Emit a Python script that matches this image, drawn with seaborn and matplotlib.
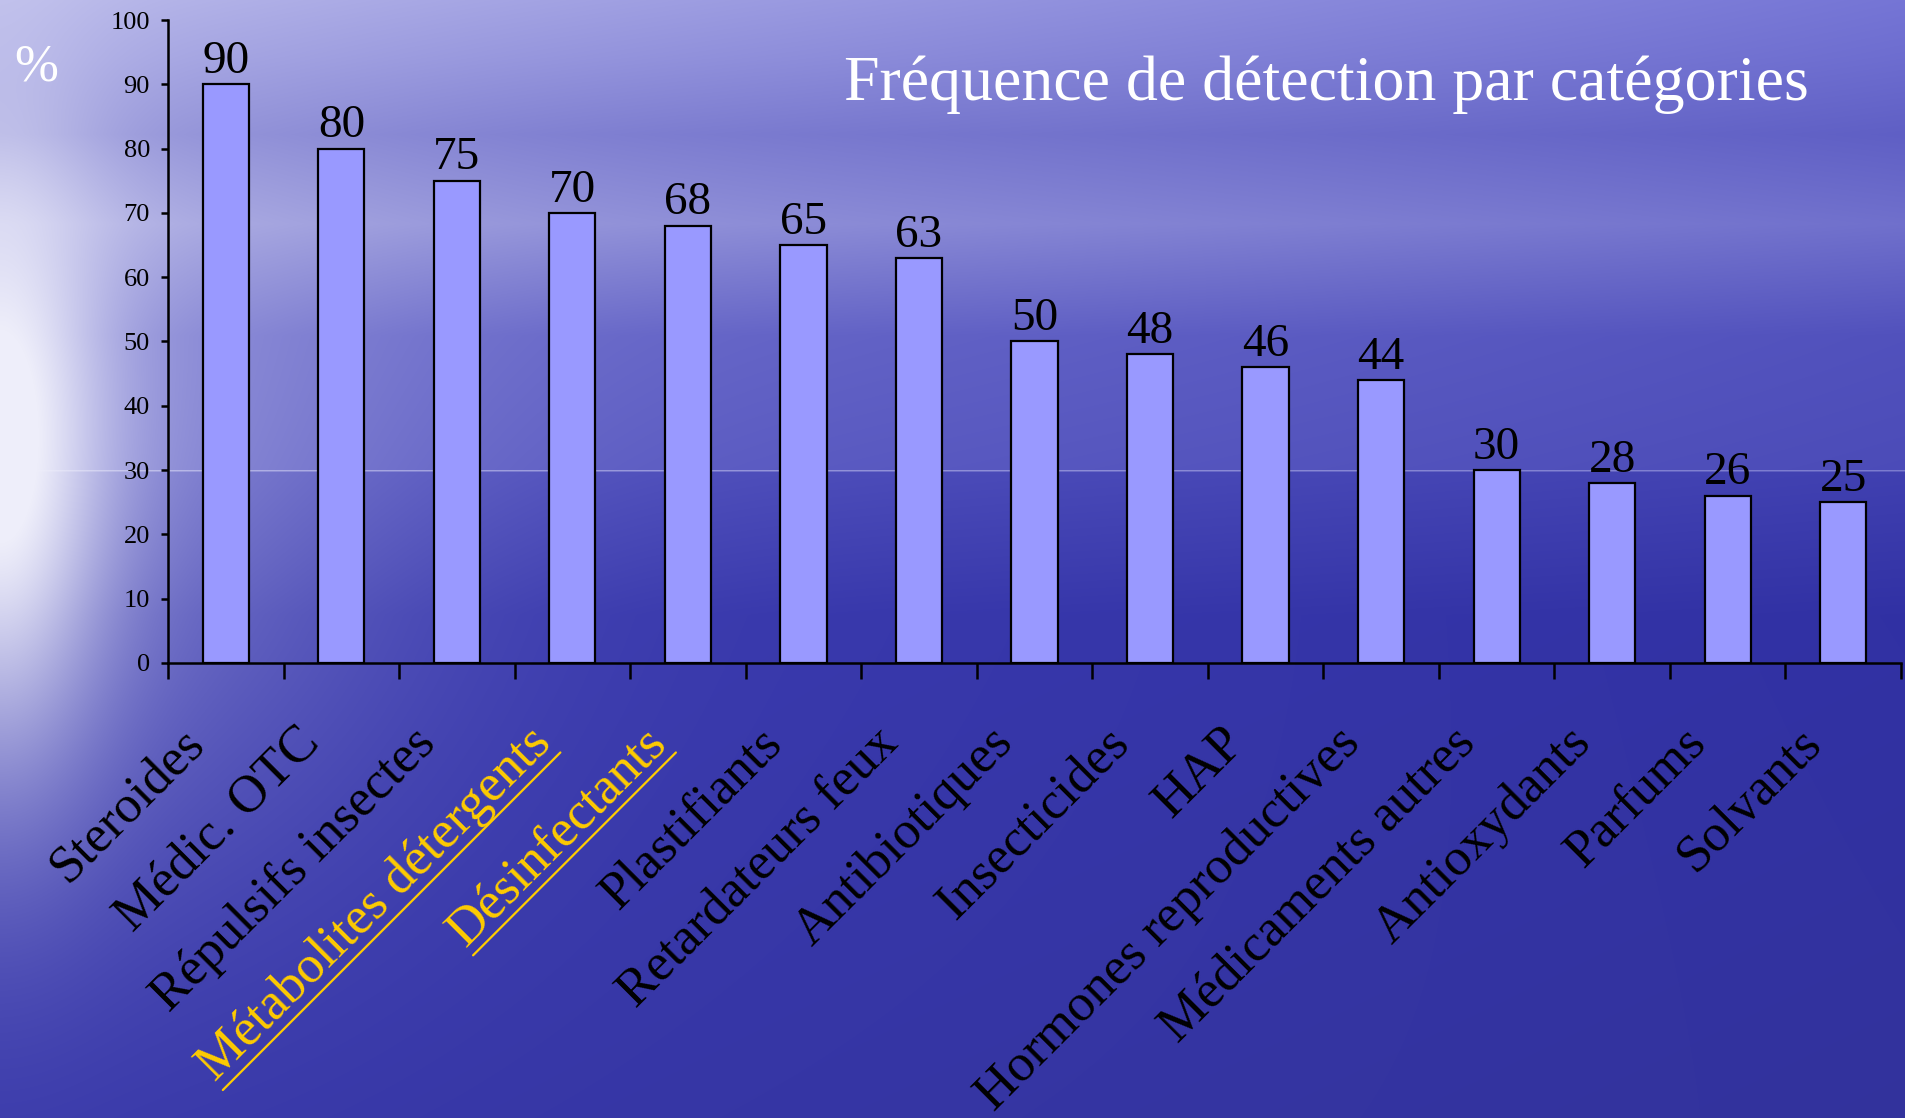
import numpy as np
import matplotlib
matplotlib.use("Agg")
import matplotlib.pyplot as plt
import matplotlib.transforms as mtransforms
from matplotlib.lines import Line2D
import seaborn as sns

# Data
categories = ["Steroides", "Médic. OTC", "Répulsifs insectes", "Métabolites détergents",
              "Désinfectants", "Plastifiants", "Retardateurs feux", "Antibiotiques",
              "Insecticides", "HAP", "Hormones reproductives", "Médicaments autres",
              "Antioxydants", "Parfums", "Solvants"]
values = [90, 80, 75, 70, 68, 65, 63, 50, 48, 46, 44, 30, 28, 26, 25]
highlighted = ["Métabolites détergents", "Désinfectants"]
yticks = list(range(0, 101, 10))

bar_color = "#9999FF"
gold = "#FFCC00"

sns.set_style("white")
plt.rcParams["font.family"] = ["Liberation Serif", "DejaVu Serif"]

fig = plt.figure(figsize=(19.05, 11.18), dpi=100)

# Background: sky / sea gradient with a bright haze on the left
H, W = 1118, 1905
yy = np.linspace(0, 1, H)[:, None]
xx = np.linspace(0, 1, W)[None, :]
sy = [0, 0.05, 0.12, 0.2, 0.3, 0.42, 0.4205, 0.4225, 0.55, 1.0]
rg = [180, 165, 140, 160, 112, 100, 175, 85, 62, 56]
bl = [232, 226, 214, 222, 205, 200, 230, 192, 178, 170]
dark_x = 1 - (0.35 - 0.25 * yy) * xx
base_rg = np.interp(yy, sy, rg) * dark_x
base_b = np.interp(yy, sy, bl) * (1 - 0.08 * xx)
glow = 0.75 * np.exp(-(xx / 0.055) ** 2 - ((yy - 0.38) / 0.3) ** 2)
glow += 0.35 * np.exp(-(xx / 0.2) ** 2 - ((yy - 0.42) / 0.35) ** 2)
glow = np.clip(glow, 0, 1)
r = base_rg * (1 - glow) + 238 * glow
b = base_b * (1 - glow) + 250 * glow
img = np.dstack([r, r, b]) / 255.0
bg = fig.add_axes([0, 0, 1, 1], zorder=0)
bg.imshow(np.clip(img, 0, 1), aspect="auto")
bg.axis("off")

ax = fig.add_axes([0.0882, 0.407, 0.9097, 0.5751], zorder=1)
ax.patch.set_alpha(0)

sns.barplot(x=categories, y=values, color=bar_color, saturation=1, width=0.4,
            edgecolor="black", linewidth=1.6, ax=ax)
ax.bar_label(ax.containers[0], fontsize=34, padding=1, color="black")

ax.set_xlim(-0.5, len(categories) - 0.5)
ax.set_ylim(0, 100)
ax.set_yticks(yticks)
ax.tick_params(axis="y", direction="out", length=5, width=1.8, pad=8,
               labelsize=19, labelcolor="black", color="black", left=True)
ax.set_xticks(np.arange(-0.5, len(categories), 1))
ax.set_xticklabels([])
ax.set_xticks(range(len(categories)), minor=True)
ax.set_xticklabels(categories, minor=True, rotation=45, ha="right", fontsize=38,
                   color="black")
ax.tick_params(axis="x", which="major", direction="out", length=11.5, width=1.8,
               color="black", bottom=True)
ax.tick_params(axis="x", which="minor", length=0, pad=40)
for side in ["top", "right"]:
    ax.spines[side].set_visible(False)
for side in ["left", "bottom"]:
    ax.spines[side].set_color("black")
    ax.spines[side].set_linewidth(1.8)
ax.set_xlabel("")
ax.set_ylabel("")

shift = mtransforms.ScaledTranslation(-12 / 100, 0, fig.dpi_scale_trans)
for lab in ax.get_xticklabels(minor=True):
    lab.set_transform(lab.get_transform() + shift)
    if lab.get_text() in highlighted:
        lab.set_color(gold)

fig.text(0.019, 0.94, "%", color="white", fontsize=38, ha="center", va="center")
fig.text(0.443, 0.911, "Fréquence de détection par catégories", color="white",
         fontsize=46, ha="left", va="baseline")

# Underline the highlighted labels along their descent line
fig.canvas.draw()
renderer = fig.canvas.get_renderer()
inv = fig.transFigure.inverted()
s2 = np.sqrt(2)
for lab in ax.get_xticklabels(minor=True):
    if lab.get_text() not in highlighted:
        continue
    tmp = fig.text(0, 0, lab.get_text(), fontproperties=lab.get_fontproperties())
    ext = tmp.get_window_extent(renderer)
    tmp.remove()
    tw, th = ext.width, ext.height
    bb = lab.get_window_extent(renderer)
    p0 = (bb.x0 + th / s2, bb.y0)
    p1 = (bb.x0 + th / s2 + tw / s2, bb.y0 + tw / s2)
    (fx0, fy0), (fx1, fy1) = inv.transform([p0, p1])
    fig.add_artist(Line2D([fx0, fx1], [fy0, fy1], color=gold, lw=1.6,
                          transform=fig.transFigure))

fig.savefig("out.png", dpi=100)
